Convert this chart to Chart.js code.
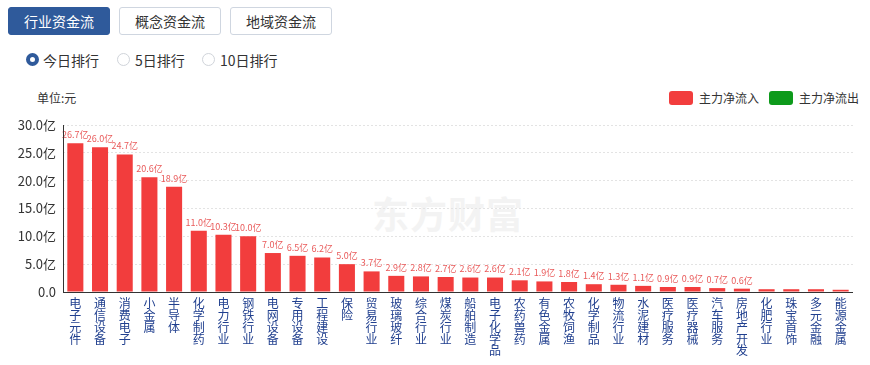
<!DOCTYPE html>
<html><head><meta charset="utf-8">
<script src="https://cdn.jsdelivr.net/npm/chart.js@4/dist/chart.umd.min.js"></script>
<style>
html,body{margin:0;padding:0;background:#fff;width:870px;height:365px;overflow:hidden;font-family:"Noto Sans CJK SC","Noto Sans",sans-serif;}
.btn{position:absolute;top:7px;height:26px;line-height:26px;border:1px solid #cfd6e0;border-radius:3px;text-align:center;font-size:14px;color:#333;background:#fff;}
.btn.on{background:#2f5a9b;border-color:#2f5a9b;color:#fff;}
.radio{position:absolute;top:53px;width:11px;height:11px;border-radius:50%;border:1px solid #d0d4da;background:#fff;}
.radio.on{border:4px solid #2f5a9b;width:5px;height:5px;}
.rt{position:absolute;top:51px;font-size:14px;color:#333;line-height:18px;}
.unit{position:absolute;left:37px;top:89px;font-size:12px;color:#333;}
.lg{position:absolute;top:91px;width:24px;height:14px;border-radius:3px;}
.lt{position:absolute;top:89px;font-size:12px;color:#333;line-height:18px;}
.wm{position:absolute;left:372px;top:186px;font-size:37px;font-weight:bold;color:#f3f3f3;letter-spacing:1px;}
#c{position:absolute;left:0;top:110px;}
</style></head>
<body>
<div class="btn on" style="left:8px;width:100px;">行业资金流</div>
<div class="btn" style="left:119px;width:100px;">概念资金流</div>
<div class="btn" style="left:230px;width:100px;">地域资金流</div>
<div class="radio on" style="left:26px;"></div><div class="rt" style="left:43px;">今日排行</div>
<div class="radio" style="left:117px;"></div><div class="rt" style="left:135px;">5日排行</div>
<div class="radio" style="left:202px;"></div><div class="rt" style="left:220px;">10日排行</div>
<div class="unit">单位:元</div>
<div class="lg" style="left:669px;background:#f23d3d;"></div><div class="lt" style="left:699px;">主力净流入</div>
<div class="lg" style="left:769px;background:#0d9a1b;"></div><div class="lt" style="left:799px;">主力净流出</div>
<div class="wm">东方财富</div>
<canvas id="c" width="870" height="260"></canvas>
<script>
const categories = ["电子元件","通信设备","消费电子","小金属","半导体","化学制药","电力行业","钢铁行业","电网设备","专用设备","工程建设","保险","贸易行业","玻璃玻纤","综合行业","煤炭行业","船舶制造","电子化学品","农药兽药","有色金属","农牧饲渔","化学制品","物流行业","水泥建材","医疗服务","医疗器械","汽车服务","房地产开发","化肥行业","珠宝首饰","多元金融","能源金属"];
const inflow = [26.7,26.0,24.7,20.6,18.9,11.0,10.3,10.0,7.0,6.5,6.2,5.0,3.7,2.9,2.8,2.7,2.6,2.6,2.1,1.9,1.8,1.4,1.3,1.1,0.9,0.9,0.7,0.6,0.5,0.5,0.5,0.4];
const valueLabels = ["26.7亿","26.0亿","24.7亿","20.6亿","18.9亿","11.0亿","10.3亿","10.0亿","7.0亿","6.5亿","6.2亿","5.0亿","3.7亿","2.9亿","2.8亿","2.7亿","2.6亿","2.6亿","2.1亿","1.9亿","1.8亿","1.4亿","1.3亿","1.1亿","0.9亿","0.9亿","0.7亿","0.6亿","","","",""];
const yTicks = [0,5,10,15,20,25,30];

const labelPlugin = {
  id:'vlabels',
  afterDatasetsDraw(chart){
    const ctx = chart.ctx;
    const meta = chart.getDatasetMeta(0);
    ctx.save();
    ctx.font = '9px "Noto Sans CJK SC", sans-serif';
    ctx.fillStyle = '#e95a5a';
    ctx.textAlign = 'center';
    ctx.textBaseline = 'bottom';
    meta.data.forEach((bar,i)=>{
      if(valueLabels[i]) ctx.fillText(valueLabels[i], bar.x, bar.y - 4);
    });
    ctx.restore();
  }
};

const axisLines = {
  id:'axisLines',
  afterDraw(chart){
    const {ctx, chartArea:a} = chart;
    ctx.save();
    ctx.setLineDash([]);
    ctx.strokeStyle = '#333';
    ctx.lineWidth = 1;
    ctx.beginPath();
    ctx.moveTo(a.left+0.5, a.top); ctx.lineTo(a.left+0.5, a.bottom);
    ctx.moveTo(a.left, a.bottom+0.5); ctx.lineTo(a.right, a.bottom+0.5);
    ctx.stroke();
    ctx.restore();
  }
};

new Chart(document.getElementById('c'), {
  type:'bar',
  data:{
    labels: categories.map(s => s.split('')),
    datasets:[{label:'主力净流入', data: inflow, backgroundColor:'#f23d3d', barPercentage:0.65, categoryPercentage:1}]
  },
  options:{
    responsive:false, animation:false,
    layout:{padding:{top:15,right:17,left:0,bottom:0}},
    plugins:{legend:{display:false}, tooltip:{enabled:false}},
    scales:{
      x:{
        grid:{display:false, drawTicks:false},
        border:{display:false},
        ticks:{color:'#21408f', font:{size:12, family:'"Noto Sans CJK SC", sans-serif', lineHeight:0.98}, padding:6, maxRotation:0, autoSkip:false},
        afterFit(s){ s.height = 78; }
      },
      y:{
        min:0, max:30,
        afterBuildTicks(s){ s.ticks = yTicks.map(v=>({value:v})); },
        grid:{color:'#e3e3e3', drawTicks:false},
        border:{display:false, dash:[2,2]},
        ticks:{color:'#333', font:{size:13, family:'"Noto Sans CJK SC", sans-serif'}, padding:7,
          callback:(v)=> v===0 ? '0.0' : v.toFixed(1)+'亿'},
        afterFit(s){ s.width = 63; }
      }
    }
  },
  plugins:[labelPlugin, axisLines]
});
</script>
</body></html>
